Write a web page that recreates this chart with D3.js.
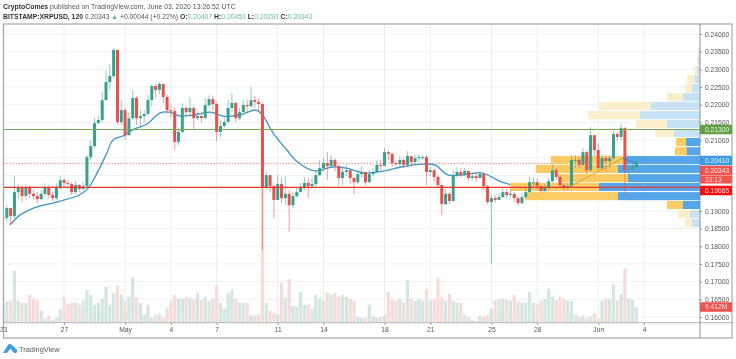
<!DOCTYPE html>
<html>
<head>
<meta charset="utf-8">
<script src="https://d3js.org/d3.v7.min.js"></script>
<style>
    html,body{margin:0;padding:0;background:#fff;overflow:hidden;}
    svg{display:block;font-family:'Liberation Sans',Arial,sans-serif;filter:blur(0.35px);}
    .tick text{fill:#555;font-size:6.7px;}
    .tick line{stroke:#888;}
    .domain{display:none;}
</style>
</head>
<body>
<script>
// one candle every 6 hours starting at 23 Apr 2020
var closes=[.1880,.1908,.1885,.1953,.1967,.1942,.1967,.1948,.1942,.1933,.1948,.1967,.1945,.1936,.1967,.1987,.1979,.1976,.1953,.1973,
.1962,.1970,.2052,.2083,.2148,.2157,.2213,.2264,.2281,.2355,.2151,.2185,.2114,.2162,.2219,.2162,.2168,.2174,.2213,.2253,
.2242,.2259,.2222,.2185,.2182,.2095,.2123,.2191,.2179,.2191,.2162,.2168,.2162,.2199,.2216,.2202,.2123,.2140,.2151,.2191,
.2205,.2162,.2179,.2199,.2196,.2213,.2208,.2202,.1967,.2001,.1970,.1931,.1976,.1936,.1948,.1916,.1942,.1953,.1967,.1979,
.1970,.1976,.2001,.2021,.2035,.2027,.2044,.2027,.1993,.2010,.2015,.1993,.1981,.2004,.2010,.1981,.2004,.2010,.2030,.2027,
.2066,.2061,.2035,.2032,.2044,.2030,.2055,.2038,.2049,.2052,.2052,.2010,.2015,.1996,.1973,.1919,.1948,.1928,.2001,.2010,
.2001,.2013,.1993,.1998,.1993,.2004,.1970,.1925,.1936,.1931,.1939,.1953,.1945,.1948,.1936,.1922,.1939,.1953,.1981,.1981,
.1970,.1956,.1965,.1984,.2015,.1996,.1973,.1967,.1970,.2044,.2044,.2030,.2066,.2015,.2114,.2072,.2021,.2049,.2041,.2049,
.2117,.2109,.2134,.2015,.2018,.2024,.20343];
var highs=[.1897,.1916,.1908,.1998,.1976,.1973,.1976,.1973,.1959,.1953,.1959,.1979,.1973,.1953,.1979,.1998,.1993,.1987,.1981,.1984,
.1976,.1981,.2058,.2100,.2162,.2168,.2236,.2298,.2315,.2360,.2355,.2213,.2191,.2179,.2242,.2225,.2185,.2185,.2227,.2259,
.2259,.2264,.2259,.2227,.2199,.2193,.2134,.2205,.2196,.2222,.2196,.2179,.2177,.2219,.2227,.2225,.2208,.2157,.2165,.2213,
.2233,.2208,.2191,.2213,.2213,.2250,.2225,.2219,.2208,.2013,.1993,.1979,.2001,.1993,.1998,.1959,.1953,.1965,.1979,.1996,
.1993,.1993,.2015,.2044,.2049,.2066,.2058,.2049,.2030,.2021,.2030,.2015,.1998,.2015,.2027,.2010,.2015,.2021,.2044,.2044,
.2078,.2072,.2063,.2044,.2055,.2049,.2069,.2052,.2058,.2061,.2058,.2058,.2027,.2021,.2001,.1970,.1959,.1953,.2015,.2024,
.2021,.2021,.2010,.2010,.2010,.2013,.2010,.1973,.1945,.1945,.1950,.1965,.1962,.1959,.1953,.1942,.1950,.1965,.1996,.1993,
.1993,.1970,.1976,.1993,.2030,.2021,.2001,.1979,.1979,.2058,.2058,.2052,.2078,.2072,.2137,.2114,.2092,.2061,.2058,.2058,
.2126,.2123,.2145,.2137,.2032,.2038,.20453];
var lows=[.1868,.1868,.1863,.1880,.1936,.1925,.1931,.1936,.1933,.1922,.1931,.1942,.1936,.1928,.1931,.1959,.1967,.1965,.1945,.1948,
.1953,.1959,.1965,.2044,.2078,.2145,.2151,.2213,.2242,.2275,.2143,.2143,.2100,.2112,.2157,.2143,.2134,.2151,.2168,.2196,
.2219,.2230,.2205,.2174,.2162,.2072,.2086,.2117,.2168,.2168,.2131,.2157,.2151,.2162,.2191,.2185,.2097,.2109,.2134,.2151,
.2179,.2151,.2157,.2179,.2179,.2191,.2191,.2179,.1789,.1959,.1953,.1880,.1959,.1922,.1919,.1840,.1908,.1936,.1953,.1959,
.1936,.1965,.1967,.1998,.2010,.1987,.2021,.2010,.1970,.1973,.1998,.1976,.1948,.1976,.1993,.1973,.1987,.1998,.2010,.2015,
.2030,.2044,.2024,.2024,.2021,.2021,.2024,.2027,.2035,.2038,.2044,.1973,.1998,.1981,.1965,.1888,.1916,.1919,.1925,.1993,
.1993,.1998,.1984,.1987,.1981,.1993,.1959,.1919,.1750,.1922,.1931,.1936,.1936,.1936,.1925,.1914,.1919,.1936,.1953,.1967,
.1959,.1950,.1953,.1959,.1979,.1987,.1965,.1959,.1959,.1965,.2021,.2021,.2027,.2004,.2010,.2055,.2010,.2015,.2010,.2021,
.2044,.2095,.2100,.1945,.2001,.2010,.20293];
// volume in millions
var volumes=[12,12.6,13.2,31.2,13.2,12,12,16.8,14.4,13.2,7.2,2.4,4.2,1.8,3,8.4,15.6,11.4,12,12,
10.8,13.2,19.8,16.8,10.8,12,14.4,21.6,10.8,18,22.2,16.8,13.2,15.6,27,15,12,4.8,10.8,3,
4.8,5.4,3.6,8.4,13.2,16.8,14.4,14.4,15.6,15,14.4,18,13.8,15.6,13.2,14.4,22.2,12,8.4,18,
19.8,14.4,12,12,12,4.8,4.2,4.8,81,12,7.2,6,4.8,24,15,26.4,10.2,9.6,18.6,10.8,
10.8,8.4,16.8,14.4,13.2,18,16.8,18,15.6,16.8,15.6,14.4,13.2,3.6,3,3,10.8,3.6,3,3.6,
4.8,18.6,13.8,13.2,14.4,12,25.8,14.4,13.2,14.4,13.2,20.4,13.2,14.4,27,15.6,13.2,17.4,13.2,12,
12,4.8,3.6,1.8,1.2,4.2,3.6,4.8,8.4,13.2,13.8,14.4,13.8,13.2,16.8,12.6,12,12,18.6,12,
10.8,13.2,14.4,20.4,15.6,13.2,15.6,14.4,13.2,13.2,4.8,3.6,4.2,3,3.6,5.4,2.4,13.2,14.4,14.4,
22.8,13.2,17.4,32.4,14.4,13.8,9.412];

// moving average, day offset from 23 Apr and price
var maDays=[.46,1.1,2,3.5,5,5.6,6,6.8,7.2,8,8.5,9.4,10.3,10.9,11.6,12.5,13.6,14.4,15.5,16.6,17,17.7,18.6,19.3,20.4,21.6,22.5,23.7,25,26.1,27.5,28.3,29.2,31.4,32,32.7,33.4,34.5];
var maValues=[.1860,.1888,.1908,.1925,.1945,.1965,.1993,.2063,.2100,.2114,.2129,.2145,.2177,.2179,.2168,.2171,.2179,.2168,.2171,.2185,.2171,.2120,.2072,.2038,.2013,.2024,.2021,.2007,.2013,.2024,.2032,.2030,.2001,.2007,.1996,.1981,.1973,.1970];

// volume profile rows, top edge of each bin and up/down volume
var profileTops=[.2360,.2335,.2309,.2284,.2258,.2233,.2208,.2182,.2157,.2131,.2106,.2080,.2055,.2030,.2004,.1979,.1953,.1928,.1902,.1877];
var profileUp=[1.5,2,3,5,8,17,49,60,33,26,14,13,74,82,72,101,82,17,10,8];
var profileDown=[1,1,3,8,7,16,52,52,31,19,10,12,75,82,70,89,93,16,12,7];
var profileBin=.00228;
var valueAreaHigh=.2106;
var valueAreaLow=.1928;

var priceTicks=[.24,.235,.23,.225,.22,.215,.21,.205,.2,.195,.19,.185,.18,.175,.17,.165,.16];
// these three sit under the label boxes on the axis
var hiddenTicks=[.205,.2,.195];
var dayTicks=[[2020,3,23,'23'],[2020,3,27,'27'],[2020,4,1,'May'],[2020,4,4,'4'],[2020,4,7,'7'],[2020,4,11,'11'],[2020,4,14,'14'],[2020,4,18,'18'],[2020,4,21,'21'],[2020,4,25,'25'],[2020,4,28,'28'],[2020,5,1,'Jun'],[2020,5,4,'4']];
var lastVolume='9.412M';
var greenLevel=.213;
var redLevel=.19665;
var lastPrice=.20343;
var trendPrices=[.1965,.2049];
var trendDays=[37,40.6];
var wedgePrices=[.2049,.2035];
var wedgeDays=[40.6,41.5];

var width=736;
var height=359;
var plotLeft=3.5;
var plotRight=732;
var axisX=700;
var plotTop=24;
var plotBottom=338;
var volBase=322.7;
var up='#38a18e';
var down='#e2524e';

var start=Date.UTC(2020,3,23);
function dayDate(d){
    return new Date(start+d*864e5);
}

var svg=d3.select('body')
.append('svg')
.attr('width',width)
.attr('height',height);

var xScale=d3.scaleUtc()
.domain([new Date(start),new Date(Date.UTC(2020,5,4))])
.range([3,644]);

var yScale=d3.scaleLinear()
.domain([.16,.24])
.range([317,34]);

var volScale=d3.scaleLinear()
.domain([0,100])
.range([volBase,volBase-166.7]);

var profileScale=d3.scaleLinear()
.domain([0,100])
.range([0,100]);

svg.append('clipPath')
.attr('id','plot')
.append('rect')
.attr('x',plotLeft)
.attr('y',plotTop)
.attr('width',axisX-plotLeft)
.attr('height',volBase-plotTop);

// grid
var tickDates=dayTicks.map(function(t){return new Date(Date.UTC(t[0],t[1],t[2]));});
svg.append('g').selectAll('line')
.data(tickDates)
.enter()
.append('line')
.attr('x1',function(d){return xScale(d);})
.attr('x2',function(d){return xScale(d);})
.attr('y1',plotTop)
.attr('y2',volBase)
.style('stroke','#eaeef1');

svg.append('g').selectAll('line')
.data(priceTicks)
.enter()
.append('line')
.attr('x1',plotLeft)
.attr('x2',axisX)
.attr('y1',function(d){return yScale(d);})
.attr('y2',function(d){return yScale(d);})
.style('stroke','#eef1f4');

var plot=svg.append('g').attr('clip-path','url(#plot)');

// volume bars
plot.append('g').selectAll('rect')
.data(volumes)
.enter()
.append('rect')
.attr('x',function(d,i){return xScale(d3.utcHour.offset(new Date(start),6*i))-1.6;})
.attr('width',3.2)
.attr('y',function(d){return volScale(d);})
.attr('height',function(d){return volBase-volScale(d);})
.style('fill',function(d,i){
    return (i==0||closes[i]>=closes[i-1])?'#d3e6e1':'#f5dcd9';
});

// last price dotted line
plot.append('line')
.attr('x1',plotLeft)
.attr('x2',axisX)
.attr('y1',yScale(lastPrice))
.attr('y2',yScale(lastPrice))
.style('stroke','#ee8a86')
.style('stroke-dasharray','1.5,1.5');

// moving average
var maLine=d3.line()
.x(function(d){return xScale(dayDate(d));})
.y(function(d,i){return yScale(maValues[i]);})
.curve(d3.curveCatmullRom);

plot.append('path')
.attr('d',maLine(maDays))
.style('fill','none')
.style('stroke','#3f95c8')
.style('stroke-width',1.3);

// volume profile
var profile=svg.append('g');
function inValueArea(i){
    return profileTops[i]<=valueAreaHigh&&profileTops[i]>=valueAreaLow;
}
profile.selectAll('rect.up')
.data(profileUp)
.enter()
.append('rect')
.attr('class','up')
.attr('x',function(d){return axisX-profileScale(d);})
.attr('width',function(d){return profileScale(d);})
.attr('y',function(d,i){return yScale(profileTops[i]);})
.attr('height',function(d,i){return yScale(profileTops[i]-profileBin)-yScale(profileTops[i]);})
.style('fill',function(d,i){return inValueArea(i)?'#55a6e8':'#c8e2f5';});

profile.selectAll('rect.down')
.data(profileDown)
.enter()
.append('rect')
.attr('class','down')
.attr('x',function(d,i){return axisX-profileScale(profileUp[i])-profileScale(d);})
.attr('width',function(d){return profileScale(d);})
.attr('y',function(d,i){return yScale(profileTops[i]);})
.attr('height',function(d,i){return yScale(profileTops[i]-profileBin)-yScale(profileTops[i]);})
.style('fill',function(d,i){return inValueArea(i)?'#fbcb63':'#fbeecb';});

// candles
var candles=svg.append('g').attr('clip-path','url(#plot)').selectAll('g')
.data(closes)
.enter()
.append('g')
.attr('transform',function(d,i){
    return 'translate('+xScale(d3.utcHour.offset(new Date(start),6*i))+',0)';
})
.style('color',function(d,i){
    return (i==0||d>=closes[i-1])?up:down;
});

candles.append('line')
.attr('y1',function(d,i){return yScale(highs[i]);})
.attr('y2',function(d,i){return yScale(lows[i]);})
.style('stroke','currentColor')
.style('opacity',0.55);

candles.append('rect')
.attr('x',-1.5)
.attr('width',3)
.attr('y',function(d,i){
    var open=i==0?d:closes[i-1];
    return yScale(Math.max(open,d));
})
.attr('height',function(d,i){
    var open=i==0?d:closes[i-1];
    return Math.max(1,Math.abs(yScale(open)-yScale(d)));
})
.style('fill','currentColor');

// trend line drawing
var drawLine=d3.line()
.x(function(d){return xScale(dayDate(d));})
.y(function(d,i){return yScale(trendPrices[i]);});
svg.append('path')
.attr('d',drawLine(trendDays))
.style('stroke','#c9a233')
.style('fill','none');

var wedgeLine=d3.line()
.x(function(d){return xScale(dayDate(d));})
.y(function(d,i){return yScale(wedgePrices[i]);});
svg.append('path')
.attr('d',wedgeLine(wedgeDays))
.style('stroke','#3d80b8')
.style('fill','none');

// levels
svg.append('line')
.attr('x1',plotLeft)
.attr('x2',axisX)
.attr('y1',yScale(greenLevel))
.attr('y2',yScale(greenLevel))
.style('stroke','#76a556')
.style('stroke-width',1.1);

svg.append('line')
.attr('x1',plotLeft)
.attr('x2',axisX)
.attr('y1',yScale(redLevel))
.attr('y2',yScale(redLevel))
.style('stroke','#e8362f')
.style('stroke-width',1.4);

// axes
var yAxis=d3.axisRight()
.scale(yScale)
.tickValues(priceTicks)
.tickFormat(function(d){return hiddenTicks.indexOf(d)>=0?'':d3.format('.5f')(d);})
.tickSize(2)
.tickPadding(3);

svg.append('g')
.attr('transform','translate('+axisX+',0)')
.call(yAxis);

var xAxis=d3.axisBottom()
.scale(xScale)
.tickValues(tickDates)
.tickFormat(function(d,i){return dayTicks[i][3];})
.tickSize(2)
.tickPadding(3);

svg.append('clipPath')
.attr('id','frameClip')
.append('rect')
.attr('x',plotLeft-3)
.attr('y',-5)
.attr('width',plotRight-plotLeft)
.attr('height',30);

svg.append('g')
.attr('clip-path','url(#frameClip)')
.attr('transform','translate(0,'+volBase+')')
.call(xAxis);

// frame
svg.append('rect')
.attr('x',plotLeft)
.attr('y',plotTop)
.attr('width',plotRight-plotLeft)
.attr('height',plotBottom-plotTop)
.style('fill','none')
.style('stroke','#a5a8ab')
.style('stroke-width',1.2);

svg.append('line')
.attr('x1',plotLeft)
.attr('x2',plotRight)
.attr('y1',volBase)
.attr('y2',volBase)
.style('stroke','#b4b6b8');

svg.append('line')
.attr('x1',axisX)
.attr('x2',axisX)
.attr('y1',plotTop)
.attr('y2',plotBottom)
.style('stroke','#8e9194');

// price labels on the axis
var boxData=[
    {text:'0.21300',y:129.5,h:9.5,fill:'#62a044',color:'#e8f3df'},
    {text:'0.20410',y:160.5,h:9.5,fill:'#3d9ae6',color:'#e8f3fc'},
    {text:'0.20343',y:170.5,h:9.5,fill:'#ef5350',color:'#fde6e5'},
    {text:'33:13',y:179.5,h:8,fill:'#ef5350',color:'#fbd6d5'},
    {text:'0.19665',y:190.5,h:9.5,fill:'#fb0d0d',color:'#ffe3e3'},
    {text:lastVolume,y:307,h:9.5,fill:'#ef5350',color:'#fde6e5'}
];
var boxes=svg.append('g').selectAll('g')
.data(boxData)
.enter()
.append('g');

boxes.append('rect')
.attr('x',axisX)
.attr('width',plotRight-axisX)
.attr('y',function(d){return d.y-d.h/2;})
.attr('height',function(d){return d.h;})
.style('fill',function(d){return d.fill;});

boxes.append('text')
.attr('x',axisX+5)
.attr('y',function(d){return d.y+2.4;})
.text(function(d){return d.text;})
.style('font-size','6.7px')
.style('fill',function(d){return d.color;});

// header
var head=svg.append('g');
var line1=head.append('text')
.attr('x',3)
.attr('y',9)
.style('font-size','6.9px')
.style('fill','#555');
line1.append('tspan').text('CryptoComes').style('font-weight','bold').style('fill','#333');
line1.append('tspan').text(' published on TradingView.com, June 03, 2020 13:26:52 UTC');

var line2=head.append('text')
.attr('x',3)
.attr('y',18.5)
.style('font-size','6.8px')
.style('fill','#555');
line2.append('tspan').text('BITSTAMP:XRPUSD, 120').style('font-weight','bold').style('fill','#333');
line2.append('tspan').text(' 0.20343 ');
line2.append('tspan').text('▲').style('fill','#53b987');
line2.append('tspan').text(' +0.00044 (+0.22%) ');
[['O:','0.20407'],['H:','0.20453'],['L:','0.20293'],['C:','0.20343']].forEach(function(p,i){
    line2.append('tspan').text((i?' ':'')+p[0]).style('font-weight','bold').style('fill','#333');
    line2.append('tspan').text(p[1]).style('fill','#62c2a4');
});

// logo
var logo=svg.append('g');
logo.append('path')
.attr('d','M3 353 L8 345 Q10 343 12 345 L17 350 Q18 353 15 353 Z')
.style('fill','#3a9ee4');
logo.append('path')
.attr('d','M7 353 L10.5 348.5 L14 353 Z')
.style('fill','#fff');
logo.append('text')
.attr('x',19)
.attr('y',351.5)
.text('TradingView')
.style('font-size','7.4px')
.style('fill','#555');
</script>
</body>
</html>
